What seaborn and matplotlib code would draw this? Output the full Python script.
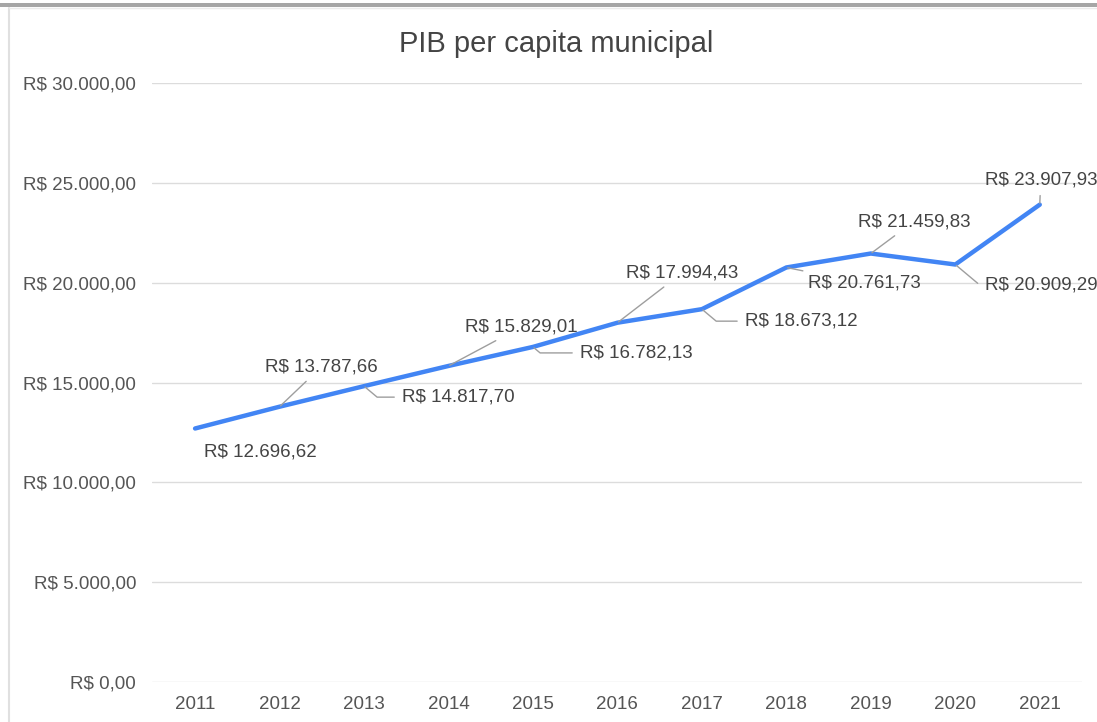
import matplotlib
matplotlib.use("Agg")
import matplotlib.pyplot as plt
import pandas as pd
import seaborn as sns
from matplotlib.lines import Line2D
from matplotlib.patches import Rectangle
from matplotlib.ticker import FuncFormatter

sns.set_theme(style='white')
plt.rcParams['font.family'] = ['Liberation Sans', 'DejaVu Sans']

# data
anos = [2011, 2012, 2013, 2014, 2015, 2016, 2017, 2018, 2019, 2020, 2021]
pib = [12696.62, 13787.66, 14817.70, 15829.01, 16782.13, 17994.43,
       18673.12, 20761.73, 21459.83, 20909.29, 23907.93]
titulo = "PIB per capita municipal"

df = pd.DataFrame({'ano': anos, 'pib': pib})


def brl(v, pos=None):
    s = f"{v:,.2f}".replace(",", "X").replace(".", ",").replace("X", ".")
    return f"R$ {s}"


fig = plt.figure(figsize=(10.97, 7.22), dpi=100)
ax = fig.add_axes([152 / 1097, 40 / 722, 930 / 1097, 599 / 722])

sns.lineplot(data=df, x='ano', y='pib', ax=ax, color='#4285F4', linewidth=3.2,
             solid_capstyle='round', zorder=3)

ax.set_xlim(2010.49, 2021.5)
ax.set_ylim(0, 30000)
ax.set_yticks(range(0, 30001, 5000))
ax.set_xticks(anos)
ax.yaxis.set_major_formatter(FuncFormatter(brl))
ax.grid(axis='y', color='#dcdcdc', linewidth=1)
ax.grid(axis='x', visible=False)
for sp in ax.spines.values():
    sp.set_visible(False)
ax.tick_params(axis='y', length=0, pad=11.5, labelsize=13.5, labelcolor='#555555')
ax.tick_params(axis='x', length=0, pad=10, labelsize=13.5, labelcolor='#555555')
ax.set_xlabel('')
ax.set_ylabel('')

# label offsets in pixels (dx, dy) and leader style
offsets = [(65, -24), (42, 40), (94, -11), (73, 39), (103, -6), (65, 50),
           (99, -12), (78, -16), (43, 32), (86, -20), (1, 25)]
for (x, y, (dx, dy)) in zip(anos, pib, offsets):
    if dy < 0 and dx > 80:
        cs = "angle,angleA=0,angleB=-40,rad=0"
    else:
        cs = "arc3,rad=0"
    arrow = None if (x == 2011) else dict(arrowstyle='-', color='#9e9e9e', lw=1,
                                          shrinkA=3, shrinkB=1, connectionstyle=cs)
    ax.annotate(brl(y), xy=(x, y), xytext=(dx, dy), textcoords='offset pixels',
                ha='center', va='center', fontsize=13.5, color='#444444',
                arrowprops=arrow, zorder=4)

fig.text(556 / 1097, 1 - 44 / 722, titulo, ha='center', va='center',
         fontsize=21, color='#444444')

# frame bits around the chart
fig.add_artist(Rectangle((0, 1 - 6.5 / 722), 1, 3.5 / 722, transform=fig.transFigure,
                         color='#a6a6a6', lw=0))
fig.add_artist(Line2D([8.5 / 1097, 8.5 / 1097], [0, 1 - 8 / 722], transform=fig.transFigure,
                      color='#e0e0e0', lw=1.5))
fig.add_artist(Line2D([8.5 / 1097, 1], [1 - 8 / 722, 1 - 8 / 722], transform=fig.transFigure,
                      color='#ececec', lw=1))

fig.savefig('out.png', dpi=100)
